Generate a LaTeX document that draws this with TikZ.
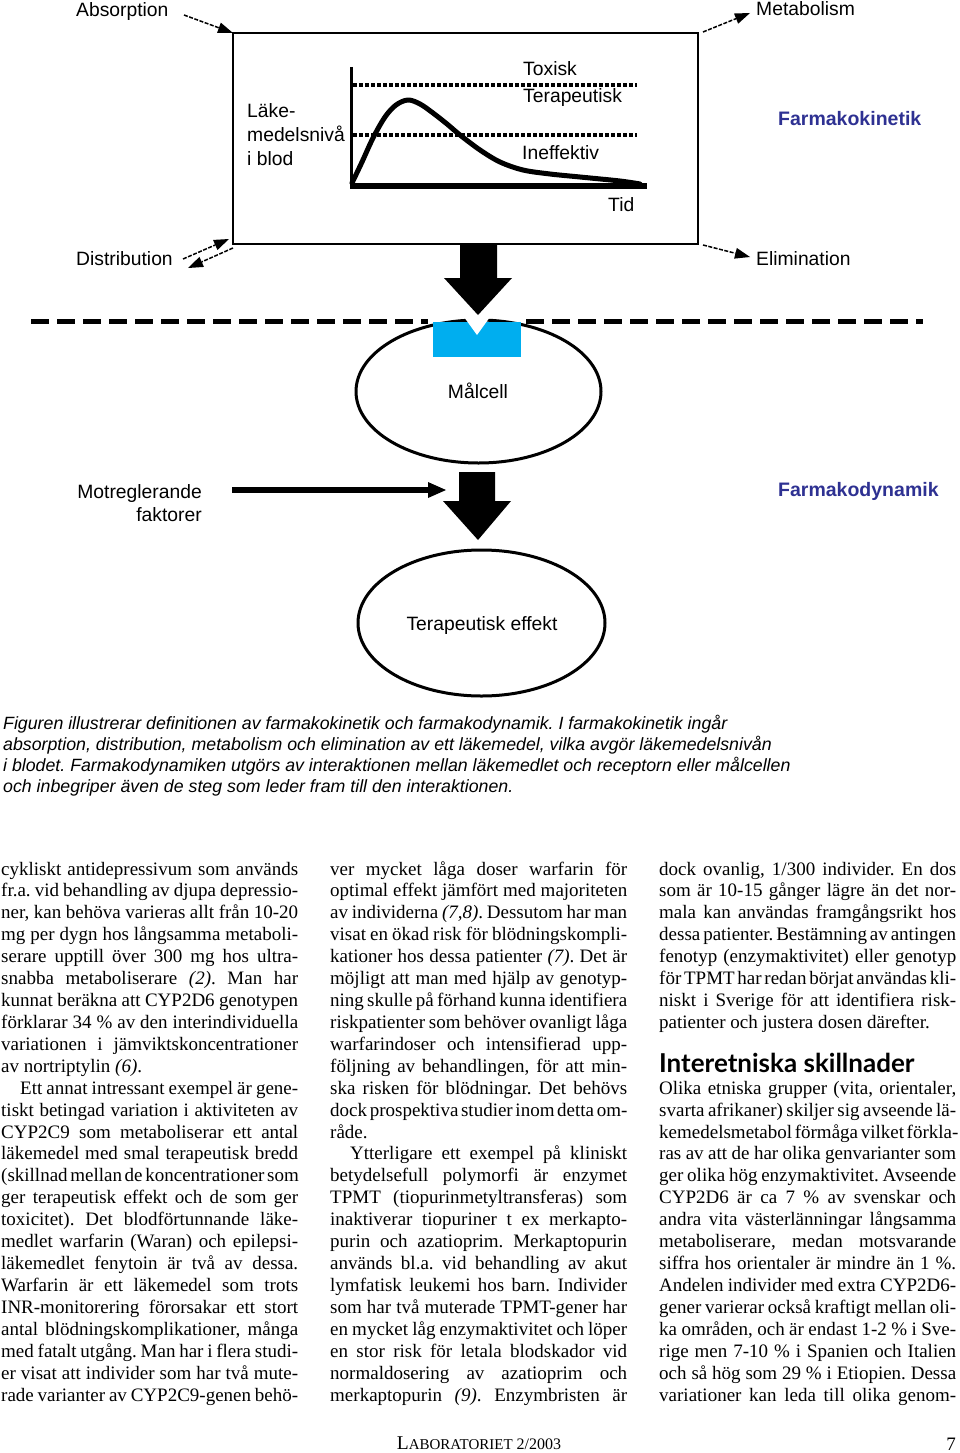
\documentclass[tikz,border=0pt]{standalone}
\usepackage{fontspec}
\usepackage{graphicx}
\setmainfont{Liberation Serif}
\newfontfamily\dfont{Liberation Sans}
\newfontfamily\hfont{Lato}
\usetikzlibrary{arrows.meta,shapes.geometric}
\definecolor{fblue}{RGB}{46,49,146}
\definecolor{rblue}{RGB}{0,174,239}
\frenchspacing
\newcommand\bodyfont{\fontsize{19}{22}\selectfont\frenchspacing\spaceskip=0.25em plus 0.8em minus 0.11em\relax}
\newcommand\jl[5]{\node[bodyline] (#1) at (#2,{875+21.92*(#3-1)}) {\makebox[#4pt][s]{#5}};}
\newcommand\natl[4]{\node[bodyline] (#1) at (#2,{875+21.92*(#3-1)}) {#4};}
\tikzset{
  lbl/.style={anchor=base west, inner sep=0pt, font=\dfont\fontsize{19.3}{23}\selectfont},
  fk/.style={anchor=base west, inner sep=0pt, font=\dfont\bfseries\fontsize{19.5}{23}\selectfont, text=fblue},
  thinarr/.style={line width=1.5pt, dash pattern=on 4pt off 1.5pt, -{Triangle[length=15pt,width=11pt,line width=0pt]}},
  cell/.style={draw, ellipse, line width=3pt, inner sep=0pt, font=\dfont\fontsize{19.3}{23}\selectfont},
  dline/.style={line width=5pt, dash pattern=on 18pt off 8pt},
  dotline/.style={line width=4pt, dash pattern=on 4pt off 2pt},
  bodyline/.style={anchor=base west, inner sep=0pt, font=\bodyfont},
  capline/.style={anchor=base west, inner sep=0pt, font=\dfont\itshape\fontsize{17.75}{21}\selectfont}
}
\begin{document}
\begin{tikzpicture}[x=1pt,y=-1pt]
\useasboundingbox (0,0) rectangle (960,1453);
\fill[white] (0,0) rectangle (960,1453);

% ---------- Farmakokinetik box ----------
\node[draw, line width=2pt, minimum width=465pt, minimum height=211pt, anchor=north west, inner sep=0pt, outer sep=0pt] (box) at (233,33) {};

% graph
\draw[line width=3pt] (351,67) -- (351,188);
\draw[line width=6pt] (349.5,185.5) -- (647,185.5);
\draw[dotline] (353,85.3) -- (637,85.3);
\draw[dotline] (353,135.3) -- (637,135.3);
\draw[line width=5pt, line join=round, line cap=round] plot[smooth, tension=0.55] coordinates
  {(352,183) (362,162) (373,138) (385,117) (396,105) (408,100) (420,104) (433,113) (447,124) (460,135) (480,150) (500,162) (523,170) (550,174) (580,177) (620,181) (640,184)};

\node[lbl] (tox) at (523,76) {Toxisk};
\node[lbl] (terl) at (523,103) {Terapeutisk};
\node[lbl] (ineff) at (522,160) {Ineffektiv};
\node[lbl] (tid) at (608,211) {Tid};
\node[lbl] (lak1) at (247,118) {Läke-};
\node[lbl] (lak2) at (247,142) {medelsnivå};
\node[lbl] (lak3) at (247,165) {i blod};

% PK labels and arrows
\node[lbl] (abs) at (76,17) {Absorption};
\node[lbl] (dist) at (76,265) {Distribution};
\node[lbl] (met) at (756,16) {Metabolism};
\node[lbl] (elim) at (756,265) {Elimination};
\node[fk] (fkin) at (778,126) {Farmakokinetik};

\coordinate (absS) at (184,15);
\draw[thinarr] (absS) -- (box.north west);
\coordinate (dis1s) at (183,259);
\coordinate (dis1e) at (229,239);
\draw[thinarr] (dis1s) -- (dis1e);
\coordinate (dis2e) at (188,268);
\draw[thinarr] ([shift={(0,4)}]box.south west) -- (dis2e);
\coordinate (metE) at (750,13);
\draw[thinarr] ([shift={(5,-1)}]box.north east) -- (metE);
\coordinate (elE) at (750,257);
\draw[thinarr] ([shift={(5,1)}]box.south east) -- (elE);

% big arrow 1
\fill (460,245) -- (497,245) -- (497,278) -- (512,278) -- (478,315) -- (444,278) -- (460,278) -- cycle;

% dashed membrane
\draw[dline] (31,321) -- (428,321);
\draw[dline] (526,321) -- (923,321);

% target cell
\node[cell, minimum width=245pt, minimum height=143pt] (mal) at (478.5,391.5) {};
\fill[rblue] (433,321.5) rectangle (521,357);
\fill[white] (464,317) -- (477,335) -- (490,317) -- cycle;
\node[lbl, anchor=base] (maltxt) at (478,398) {Målcell};

% big arrow 2
\fill (459,472) -- (495,472) -- (495,501) -- (511,501) -- (478,540) -- (443,501) -- (459,501) -- cycle;

% counter-regulating factors
\node[lbl, anchor=base east] (mot1) at (202,498) {Motreglerande};
\node[lbl, anchor=base east] (mot2) at (202,521) {faktorer};
\coordinate (ms) at (232,490);
\coordinate (me) at (446,490);
\draw[line width=6pt, -{Triangle[length=18pt,width=16pt,line width=0pt]}] (ms) -- (me);
\node[fk] (fdyn) at (778,496) {Farmakodynamik};

% therapeutic effect
\node[cell, minimum width=247pt, minimum height=146pt] (ter) at (481.5,623) {};
\node[lbl, anchor=base] (tertxt) at (482,630) {Terapeutisk effekt};

% ---------- caption ----------
\node[capline] (cap1) at (3,729) {Figuren illustrerar definitionen av farmakokinetik och farmakodynamik. I farmakokinetik ingår};
\node[capline] (cap2) at (3,750) {absorption, distribution, metabolism och elimination av ett läkemedel, vilka avgör läkemedelsnivån};
\node[capline] (cap3) at (3,771) {i blodet. Farmakodynamiken utgörs av interaktionen mellan läkemedlet och receptorn eller målcellen};
\node[capline] (cap4) at (3,792) {och inbegriper även de steg som leder fram till den interaktionen.};

% ---------- column 1 ----------
\jl{a1}{1}{1}{297}{cykliskt antidepressivum som används}
\jl{a2}{1}{2}{297}{fr.a. vid behandling av djupa depressio-}
\jl{a3}{1}{3}{297}{ner, kan behöva varieras allt från 10-20}
\jl{a4}{1}{4}{297}{mg per dygn hos långsamma metaboli-}
\jl{a5}{1}{5}{297}{serare upptill över 300 mg hos ultra-}
\jl{a6}{1}{6}{297}{snabba metaboliserare \textit{(2)}. Man har}
\jl{a7}{1}{7}{297}{kunnat beräkna att CYP2D6 genotypen}
\jl{a8}{1}{8}{297}{förklarar 34 \% av den interindividuella}
\jl{a9}{1}{9}{297}{variationen i jämviktskoncentrationer}
\natl{a10}{1}{10}{av nortriptylin \textit{(6)}.}
\jl{a11}{20}{11}{278}{Ett annat intressant exempel är gene-}
\jl{a12}{1}{12}{297}{tiskt betingad variation i aktiviteten av}
\jl{a13}{1}{13}{297}{CYP2C9 som metaboliserar ett antal}
\jl{a14}{1}{14}{297}{läkemedel med smal terapeutisk bredd}
\jl{a15}{1}{15}{297}{(skillnad mellan de koncentrationer som}
\jl{a16}{1}{16}{297}{ger terapeutisk effekt och de som ger}
\jl{a17}{1}{17}{297}{toxicitet). Det blodförtunnande läke-}
\jl{a18}{1}{18}{297}{medlet warfarin (Waran) och epilepsi-}
\jl{a19}{1}{19}{297}{läkemedlet fenytoin är två av dessa.}
\jl{a20}{1}{20}{297}{Warfarin är ett läkemedel som trots}
\jl{a21}{1}{21}{297}{INR-monitorering förorsakar ett stort}
\jl{a22}{1}{22}{297}{antal blödningskomplikationer, många}
\jl{a23}{1}{23}{297}{med fatalt utgång. Man har i flera studi-}
\jl{a24}{1}{24}{297}{er visat att individer som har två mute-}
\jl{a25}{1}{25}{297}{rade varianter av CYP2C9-genen behö-}

% ---------- column 2 ----------
\jl{b1}{330}{1}{297}{ver mycket låga doser warfarin för}
\jl{b2}{330}{2}{297}{optimal effekt jämfört med majoriteten}
\jl{b3}{330}{3}{297}{av individerna \textit{(7,8)}. Dessutom har man}
\jl{b4}{330}{4}{297}{visat en ökad risk för blödningskompli-}
\jl{b5}{330}{5}{297}{kationer hos dessa patienter \textit{(7)}. Det är}
\jl{b6}{330}{6}{297}{möjligt att man med hjälp av genotyp-}
\jl{b7}{330}{7}{297}{ning skulle på förhand kunna identifiera}
\jl{b8}{330}{8}{297}{riskpatienter som behöver ovanligt låga}
\jl{b9}{330}{9}{297}{warfarindoser och intensifierad upp-}
\jl{b10}{330}{10}{297}{följning av behandlingen, för att min-}
\jl{b11}{330}{11}{297}{ska risken för blödningar. Det behövs}
\jl{b12}{330}{12}{297}{dock prospektiva studier inom detta om-}
\natl{b13}{330}{13}{råde.}
\jl{b14}{350}{14}{277}{Ytterligare ett exempel på kliniskt}
\jl{b15}{330}{15}{297}{betydelsefull polymorfi är enzymet}
\jl{b16}{330}{16}{297}{TPMT (tiopurinmetyltransferas) som}
\jl{b17}{330}{17}{297}{inaktiverar tiopuriner t ex merkapto-}
\jl{b18}{330}{18}{297}{purin och azatioprim. Merkaptopurin}
\jl{b19}{330}{19}{297}{används bl.a. vid behandling av akut}
\jl{b20}{330}{20}{297}{lymfatisk leukemi hos barn. Individer}
\jl{b21}{330}{21}{297}{som har två muterade TPMT-gener har}
\jl{b22}{330}{22}{297}{en mycket låg enzymaktivitet och löper}
\jl{b23}{330}{23}{297}{en stor risk för letala blodskador vid}
\jl{b24}{330}{24}{297}{normaldosering av azatioprim och}
\jl{b25}{330}{25}{297}{merkaptopurin \textit{(9)}. Enzymbristen är}

% ---------- column 3 ----------
\jl{c1}{659}{1}{297}{dock ovanlig, 1/300 individer. En dos}
\jl{c2}{659}{2}{297}{som är 10-15 gånger lägre än det nor-}
\jl{c3}{659}{3}{297}{mala kan användas framgångsrikt hos}
\jl{c4}{659}{4}{297}{dessa patienter. Bestämning av antingen}
\jl{c5}{659}{5}{297}{fenotyp (enzymaktivitet) eller genotyp}
\jl{c6}{659}{6}{297}{för TPMT har redan börjat användas kli-}
\jl{c7}{659}{7}{297}{niskt i Sverige för att identifiera risk-}
\natl{c8}{659}{8}{patienter och justera dosen därefter.}
\node[anchor=base west, inner sep=0pt] (head) at (659,1072) {\hfont\bfseries\fontsize{26}{26}\selectfont Interetniska skillnader};
\jl{c9}{659}{11}{297}{Olika etniska grupper (vita, orientaler,}
\jl{c10}{659}{12}{297}{svarta afrikaner) skiljer sig avseende lä-}
\jl{c11}{659}{13}{297}{kemedelsmetabol förmåga vilket förkla-}
\jl{c12}{659}{14}{297}{ras av att de har olika genvarianter som}
\jl{c13}{659}{15}{297}{ger olika hög enzymaktivitet. Avseende}
\jl{c14}{659}{16}{297}{CYP2D6 är ca 7 \% av svenskar och}
\jl{c15}{659}{17}{297}{andra vita västerlänningar långsamma}
\jl{c16}{659}{18}{297}{metaboliserare, medan motsvarande}
\jl{c17}{659}{19}{297}{siffra hos orientaler är mindre än 1 \%.}
\jl{c18}{659}{20}{297}{Andelen individer med extra CYP2D6-}
\jl{c19}{659}{21}{297}{gener varierar också kraftigt mellan oli-}
\jl{c20}{659}{22}{297}{ka områden, och är endast 1-2 \% i Sve-}
\jl{c21}{659}{23}{297}{rige men 7-10 \% i Spanien och Italien}
\jl{c22}{659}{24}{297}{och så hög som 29 \% i Etiopien. Dessa}
\jl{c23}{659}{25}{297}{variationer kan leda till olika genom-}

% ---------- footer ----------
\node[anchor=base, inner sep=0pt] (foot) at (479,1449) {\fontsize{19.5}{19}\selectfont L\fontsize{15}{19}\selectfont ABORATORIET\hspace{4pt}\fontsize{16}{19}\selectfont 2/2003};
\node[anchor=base east, inner sep=0pt, font=\fontsize{19}{19}\selectfont] (pnum) at (956,1450) {7};
\end{tikzpicture}
\end{document}
